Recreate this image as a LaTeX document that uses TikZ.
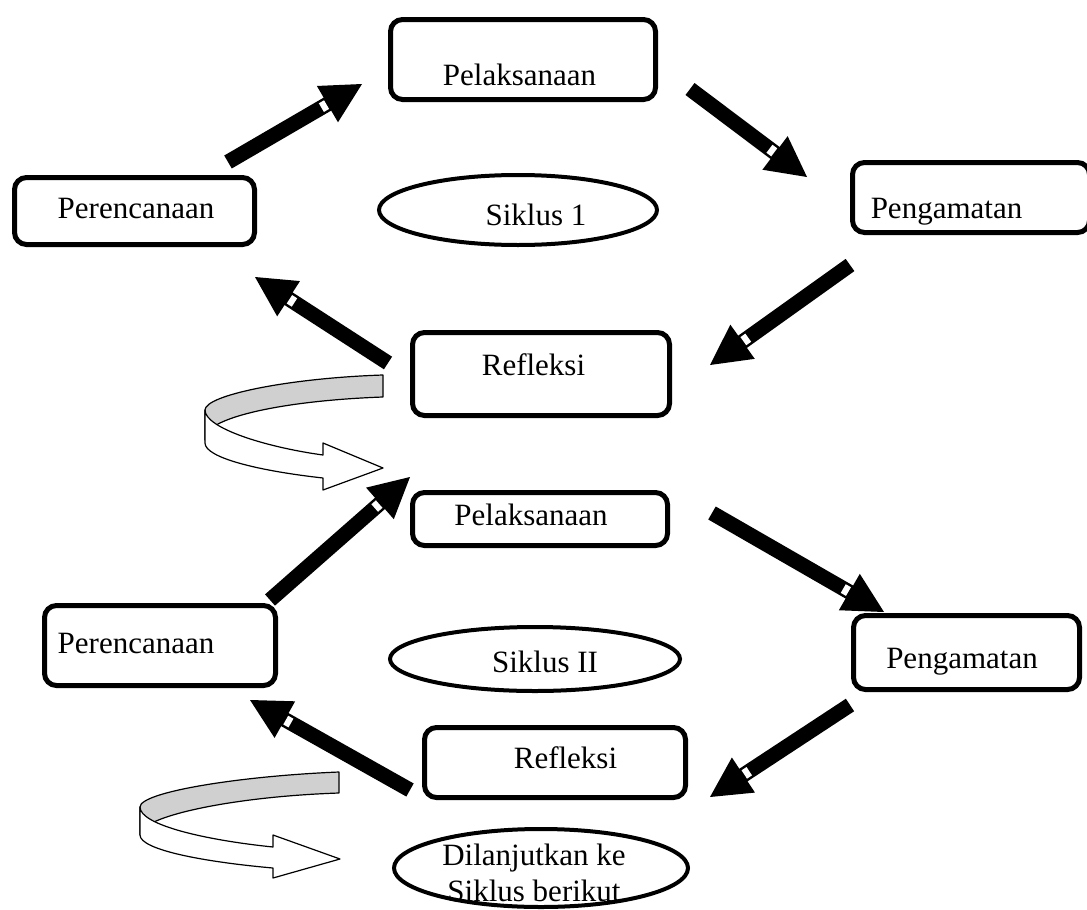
\documentclass[tikz,border=0pt]{standalone}
\usepackage{fontspec}
\setmainfont{Liberation Serif}
\usetikzlibrary{calc,shapes.geometric}
\definecolor{ribgray}{RGB}{208,208,208}
\tikzset{
  box/.style={draw, line width=5pt, rounded corners=12pt, inner sep=0pt},
  oval/.style={draw, ellipse, line width=4pt, inner sep=0pt},
  lbl/.style={anchor=base, font=\fontsize{31}{37}\selectfont, inner sep=0pt},
  shaft/.style={line width=15pt},
  ribbon/.style={draw, line width=1.2pt, line join=round},
}
\newcommand\flowarrow[2]{%
  \draw[shaft] (#1) -- ($(#2)!38pt!(#1)$);
  \fill ($($(#2)!40pt!(#1)$)!21pt!90:(#2)$) -- (#2) -- ($($(#2)!40pt!(#1)$)!21pt!-90:(#2)$) -- cycle;
  \draw[white, line width=10pt] ($(#2)!41pt!(#1)$) -- ($(#2)!47pt!(#1)$);
}
\begin{document}
\begin{tikzpicture}[x=1pt,y=-1pt]
\useasboundingbox (0,0) rectangle (1087,910);
\clip (0,0) rectangle (1087,910);

% boxes
\node[box, minimum width=265pt, minimum height=80pt] (pel1) at (523,59.5) {};
\node[box, minimum width=240pt, minimum height=67pt] (per1) at (134.5,211) {};
\node[box, minimum width=237pt, minimum height=70pt] (pen1) at (971,197.5) {};
\node[box, minimum width=257pt, minimum height=83pt] (ref1) at (541,374) {};
\node[box, minimum width=255pt, minimum height=53pt] (pel2) at (540,519) {};
\node[box, minimum width=231pt, minimum height=80pt] (per2) at (160,645.5) {};
\node[box, minimum width=226pt, minimum height=74pt] (pen2) at (966.5,652.5) {};
\node[box, minimum width=261pt, minimum height=70pt] (ref2) at (555,762.5) {};

% ellipses
\node[oval, minimum width=278pt, minimum height=70pt] (sik1) at (518,210) {};
\node[oval, minimum width=290pt, minimum height=64pt] (sik2) at (535,659) {};
\node[oval, minimum width=294pt, minimum height=78pt] (dil) at (541,868) {};

% labels
\node[lbl] (pel1t) at (519.5,85) {Pelaksanaan};
\node[lbl] (per1t) at (136,218) {Perencanaan};
\node[lbl] (pen1t) at (946.5,218) {Pengamatan};
\node[lbl] (sik1t) at (536,225) {Siklus 1};
\node[lbl] (ref1t) at (533.5,375) {Refleksi};
\node[lbl] (pel2t) at (531,525) {Pelaksanaan};
\node[lbl] (per2t) at (136,653) {Perencanaan};
\node[lbl] (pen2t) at (962,668) {Pengamatan};
\node[lbl] (sik2t) at (545,672) {Siklus II};
\node[lbl] (ref2t) at (565.5,768) {Refleksi};
\node[lbl] (dilt1) at (534,865) {Dilanjutkan ke};
\node[lbl] (dilt2) at (534,901) {Siklus berikut};

% arrow end points
\coordinate (a1s) at (228,162); \coordinate (a1e) at (362,84);
\coordinate (a2s) at (690,89);  \coordinate (a2e) at (807,177);
\coordinate (a3s) at (850,265); \coordinate (a3e) at (710,365);
\coordinate (a4s) at (388,363); \coordinate (a4e) at (255,277);
\coordinate (a5s) at (270,600); \coordinate (a5e) at (410,477);
\coordinate (a6s) at (712,513); \coordinate (a6e) at (884,612);
\coordinate (a7s) at (850,705); \coordinate (a7e) at (710,797);
\coordinate (a8s) at (410,790); \coordinate (a8e) at (250,700);

\flowarrow{a1s}{a1e}
\flowarrow{a2s}{a2e}
\flowarrow{a3s}{a3e}
\flowarrow{a4s}{a4e}
\flowarrow{a5s}{a5e}
\flowarrow{a6s}{a6e}
\flowarrow{a7s}{a7e}
\flowarrow{a8s}{a8e}

% curved ribbon arrows
\filldraw[ribbon, fill=ribgray] (383,375) .. controls (290,378) and (205,395) .. (205,410)
  -- (205,440) -- (213,440) -- (213,427) .. controls (235,412) and (300,400) .. (383,397) -- cycle;
\filldraw[ribbon, fill=white] (205,410) .. controls (205,428) and (265,447) .. (323,455)
  -- (323,443) -- (383,468) -- (323,490) -- (323,478)
  .. controls (260,471) and (205,458) .. (205,443) -- cycle;

\filldraw[ribbon, fill=ribgray] (339,772) .. controls (240,776) and (140,792) .. (140,807)
  -- (140,835) -- (150,835) -- (150,824) .. controls (175,810) and (250,796) .. (339,793) -- cycle;
\filldraw[ribbon, fill=white] (140,807) .. controls (140,825) and (205,840) .. (273,847)
  -- (273,835) -- (340,859) -- (273,878) -- (273,868)
  .. controls (205,862) and (140,850) .. (140,835) -- cycle;
\end{tikzpicture}
\end{document}
